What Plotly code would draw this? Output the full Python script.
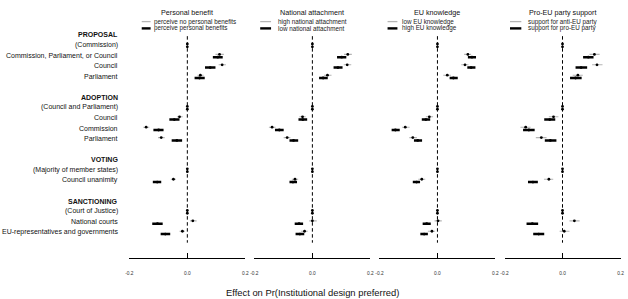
import plotly.graph_objects as go

# ---------------- data ----------------
row_labels = ["PROPOSAL", "(Commission)", "Commission, Parliament, or Council", "Council", "Parliament", "",
              "ADOPTION", "(Council and Parliament)", "Council", "Commission", "Parliament", "",
              "VOTING", "(Majority of member states)", "Council unanimity", "",
              "SANCTIONING", "(Court of Justice)", "National courts", "EU-representatives and governments"]
bold_rows = [0, 6, 12, 16]
est_rows = [1, 2, 3, 4, 7, 8, 9, 10, 13, 14, 17, 18, 19]

panel_titles = ["Personal benefit", "National attachment", "EU knowledge", "Pro-EU party support"]
grey_names = ["perceive no personal benefits", "high national attachment", "low EU knowledge", "support for anti-EU party"]
black_names = ["perceive personal benefits", "low national attachment", "high EU knowledge", "support for pro-EU party"]

# Personal benefit
p1_grey_est = [0, 0.111, 0.120, 0.045, 0, -0.027, -0.142, -0.090, 0, -0.048, 0, 0.019, -0.017]
p1_grey_lo = [0, 0.097, 0.108, 0.035, 0, -0.036, -0.152, -0.101, 0, -0.057, 0, 0.009, -0.027]
p1_grey_hi = [0, 0.126, 0.133, 0.056, 0, -0.016, -0.131, -0.078, 0, -0.039, 0, 0.032, -0.008]
p1_black_est = [0, 0.105, 0.079, 0.042, 0, -0.045, -0.099, -0.036, 0, -0.104, 0, -0.103, -0.076]
p1_black_lo = [0, 0.088, 0.061, 0.025, 0, -0.062, -0.117, -0.054, 0, -0.119, 0, -0.121, -0.092]
p1_black_hi = [0, 0.122, 0.097, 0.060, 0, -0.027, -0.082, -0.018, 0, -0.090, 0, -0.085, -0.059]

# National attachment
p2_grey_est = [0, 0.122, 0.120, 0.052, 0, -0.034, -0.139, -0.087, 0, -0.060, 0, 0.000, -0.027]
p2_grey_lo = [0, 0.109, 0.108, 0.040, 0, -0.045, -0.150, -0.099, 0, -0.071, 0, -0.011, -0.039]
p2_grey_hi = [0, 0.136, 0.134, 0.066, 0, -0.023, -0.127, -0.076, 0, -0.049, 0, 0.015, -0.016]
p2_black_est = [0, 0.101, 0.088, 0.037, 0, -0.033, -0.114, -0.065, 0, -0.067, 0, -0.046, -0.043]
p2_black_lo = [0, 0.085, 0.073, 0.023, 0, -0.048, -0.129, -0.079, 0, -0.079, 0, -0.061, -0.058]
p2_black_hi = [0, 0.117, 0.104, 0.053, 0, -0.018, -0.099, -0.049, 0, -0.053, 0, -0.032, -0.028]

# EU knowledge
p3_grey_est = [0, 0.105, 0.095, 0.034, 0, -0.028, -0.111, -0.085, 0, -0.054, 0, 0.002, -0.019]
p3_grey_lo = [0, 0.092, 0.082, 0.020, 0, -0.040, -0.122, -0.097, 0, -0.066, 0, -0.010, -0.033]
p3_grey_hi = [0, 0.116, 0.107, 0.046, 0, -0.015, -0.096, -0.071, 0, -0.042, 0, 0.015, -0.008]
p3_black_est = [0, 0.119, 0.116, 0.055, 0, -0.040, -0.145, -0.068, 0, -0.072, 0, -0.037, -0.046]
p3_black_lo = [0, 0.105, 0.103, 0.042, 0, -0.054, -0.158, -0.081, 0, -0.085, 0, -0.051, -0.059]
p3_black_hi = [0, 0.133, 0.131, 0.070, 0, -0.025, -0.130, -0.053, 0, -0.060, 0, -0.023, -0.033]

# Pro-EU party support
p4_grey_est = [0, 0.110, 0.119, 0.053, 0, -0.031, -0.127, -0.073, 0, -0.047, 0, 0.041, 0.006]
p4_grey_lo = [0, 0.093, 0.102, 0.035, 0, -0.047, -0.145, -0.092, 0, -0.064, 0, 0.024, -0.010]
p4_grey_hi = [0, 0.128, 0.138, 0.070, 0, -0.014, -0.110, -0.055, 0, -0.032, 0, 0.059, 0.024]
p4_black_est = [0, 0.089, 0.064, 0.045, 0, -0.044, -0.116, -0.042, 0, -0.102, 0, -0.104, -0.082]
p4_black_lo = [0, 0.071, 0.045, 0.026, 0, -0.063, -0.136, -0.061, 0, -0.119, 0, -0.124, -0.101]
p4_black_hi = [0, 0.107, 0.085, 0.066, 0, -0.025, -0.096, -0.021, 0, -0.085, 0, -0.084, -0.063]

x_ticks = [-0.2, 0.0, 0.2]
x_ticktext = ["-0.2", "0.0", "0.2"]
x_title = "Effect on Pr(Institutional design preferred)"

panels = [
    (p1_grey_est, p1_grey_lo, p1_grey_hi, p1_black_est, p1_black_lo, p1_black_hi),
    (p2_grey_est, p2_grey_lo, p2_grey_hi, p2_black_est, p2_black_lo, p2_black_hi),
    (p3_grey_est, p3_grey_lo, p3_grey_hi, p3_black_est, p3_black_lo, p3_black_hi),
    (p4_grey_est, p4_grey_lo, p4_grey_hi, p4_black_est, p4_black_lo, p4_black_hi),
]

# ---------------- layout helpers ----------------
W, H = 628, 299
T, B = 19.4, 258.5
FONT = "Liberation Sans, Arial, sans-serif"
GREY = "#b5b5b5"


def py(px):
    return (B - px) / (B - T)


zeros_px = [185.7 + 126.67 * k for k in range(4)]
half_w = 58.75
legend_line = [(139.5, 148.5, 150.0), (259.5, 270.5, 275.5), (388.5, 398.5, 401.5), (512.5, 524.0, 529.0)]

fig = go.Figure()
layout = dict(
    width=W, height=H,
    margin=dict(l=0, r=0, t=T, b=H - B, pad=0),
    paper_bgcolor="white", plot_bgcolor="white",
    showlegend=False,
    font=dict(family=FONT, color="black"),
    yaxis=dict(range=[21.47, -1.5], visible=False, domain=[0, 1], fixedrange=True),
)

shapes = []
annotations = []

for k, (ge, gl, gh, be, bl, bh) in enumerate(panels):
    ax = "x" if k == 0 else f"x{k + 1}"
    axkey = "xaxis" if k == 0 else f"xaxis{k + 1}"
    z = zeros_px[k]
    layout[axkey] = dict(
        domain=[(z - half_w) / W, (z + half_w) / W],
        range=[-0.2, 0.2], anchor="y",
        showgrid=False, zeroline=False,
        showline=True, linecolor="black", linewidth=1,
        ticks="inside", ticklen=5, tickwidth=1, tickcolor="black",
        tickvals=x_ticks, ticktext=x_ticktext,
        tickfont=dict(size=4.8, color="#333333"),
        ticklabelstandoff=10,
        fixedrange=True,
    )
    # zero reference line
    shapes.append(dict(type="line", xref=ax, yref="y", x0=0, x1=0, y0=0.15, y1=20.0,
                       line=dict(color="black", width=1, dash="3.5px,2.5px"), layer="below"))

    y_grey = [r - 0.1 for r in est_rows]
    y_black = [r + 0.17 for r in est_rows]
    # grey estimates (thin CI, black dot)
    fig.add_trace(go.Scatter(
        x=ge, y=y_grey, xaxis=ax, yaxis="y", mode="markers",
        marker=dict(color="black", size=2.8),
        error_x=dict(type="data", symmetric=False,
                     array=[h - e for h, e in zip(gh, ge)],
                     arrayminus=[e - l for e, l in zip(ge, gl)],
                     color=GREY, thickness=1.1, width=0),
        name=grey_names[k], hoverinfo="x+name"))
    # black estimates (thick CI)
    fig.add_trace(go.Scatter(
        x=be, y=y_black, xaxis=ax, yaxis="y", mode="markers",
        marker=dict(color="black", size=2.8),
        error_x=dict(type="data", symmetric=False,
                     array=[h - e for h, e in zip(bh, be)],
                     arrayminus=[e - l for e, l in zip(be, bl)],
                     color="black", thickness=2.5, width=0),
        name=black_names[k], hoverinfo="x+name"))

    # panel title
    annotations.append(dict(text=panel_titles[k], xref="paper", yref="paper",
                            x=z / W, y=py(13.3), xanchor="center", yanchor="middle",
                            showarrow=False, font=dict(size=7.2, color="#111111")))
    # legend
    lx0, lx1, tx = legend_line[k]
    shapes.append(dict(type="line", xref="paper", yref="paper", x0=lx0 / W, x1=lx1 / W,
                       y0=py(22.0), y1=py(22.0), line=dict(color=GREY, width=1.3)))
    shapes.append(dict(type="line", xref="paper", yref="paper", x0=lx0 / W, x1=lx1 / W,
                       y0=py(28.8), y1=py(28.8), line=dict(color="black", width=2.4)))
    annotations.append(dict(text=grey_names[k], xref="paper", yref="paper",
                            x=tx / W, y=py(22.0), xanchor="left", yanchor="middle",
                            showarrow=False, font=dict(size=6.3, color="#222222")))
    annotations.append(dict(text=black_names[k], xref="paper", yref="paper",
                            x=tx / W, y=py(28.8), xanchor="left", yanchor="middle",
                            showarrow=False, font=dict(size=6.3, color="#222222")))

# row labels
for r, lab in enumerate(row_labels):
    if not lab:
        continue
    txt = f"<b>{lab}</b>" if r in bold_rows else lab
    annotations.append(dict(text=txt, xref="paper", yref="y", x=118.0 / W, y=r,
                            xanchor="right", yanchor="middle", showarrow=False,
                            font=dict(size=7.0, color="#111111")))

# x-axis title
annotations.append(dict(text=x_title, xref="paper", yref="paper", x=312.5 / W, y=py(293.0),
                        xanchor="center", yanchor="middle", showarrow=False,
                        font=dict(size=9.4, color="#111111")))

layout["shapes"] = shapes
layout["annotations"] = annotations
fig.update_layout(**layout)

fig.write_html("out.html", config={"displayModeBar": False},
               post_script="document.body.style.margin='0';document.body.style.overflow='hidden';")
